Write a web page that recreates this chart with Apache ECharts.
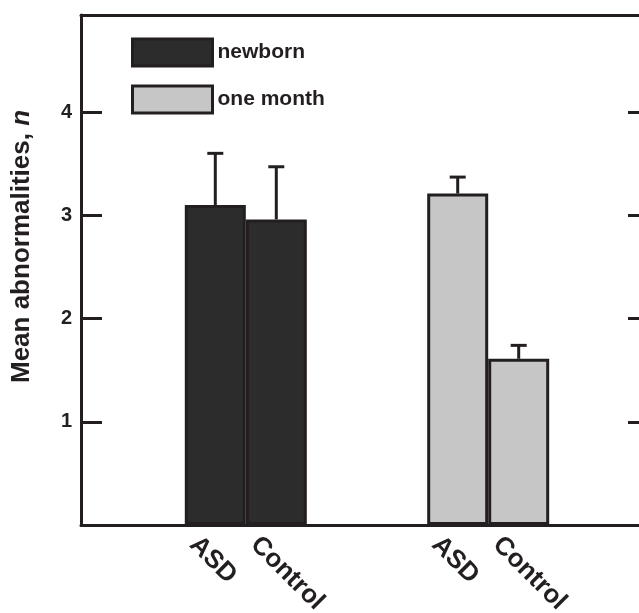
<!DOCTYPE html>
<html>
<head>
<meta charset="utf-8">
<script src="https://cdn.jsdelivr.net/npm/echarts@6/dist/echarts.min.js"></script>
<style>
html,body{margin:0;padding:0;background:#fff;}
#chart{width:639px;height:613px;}
</style>
</head>
<body>
<div id="chart"></div>
<script>
// ---- data ----
var categories = ['ASD', 'Control'];
var groups = ['newborn', 'one month'];
var newbornMean = [3.10, 2.96];
var newbornErr = [0.50, 0.51];
var oneMonthMean = [3.21, 1.61];
var oneMonthErr = [0.16, 0.13];
var yTicks = [1, 2, 3, 4];

var INK = '#231f20';
var FONT = '"Liberation Sans", Arial, Helvetica, sans-serif';
var Y_MAX = 4.94;

function errData(means, errs) {
  return means.map(function (m, i) { return [i, m, m + errs[i]]; });
}

function renderErr(params, api) {
  var x = api.value(0);
  var p0 = api.coord([x, api.value(1)]);
  var p1 = api.coord([x, api.value(2)]);
  var lw = 3;
  return {
    type: 'group',
    children: [
      { type: 'line', shape: { x1: p0[0], y1: p0[1], x2: p1[0], y2: p1[1] }, style: { stroke: INK, lineWidth: lw } },
      { type: 'line', shape: { x1: p1[0] - 8, y1: p1[1], x2: p1[0] + 8, y2: p1[1] }, style: { stroke: INK, lineWidth: lw } }
    ]
  };
}

var barLabel = {
  show: true,
  formatter: '{b}',
  position: [3, '100%'],
  offset: [15, 7],
  rotate: -45,
  align: 'left',
  verticalAlign: 'middle',
  fontSize: 26,
  fontWeight: 'bold',
  fontFamily: FONT,
  color: INK
};

function hiddenY(gi) {
  return { gridIndex: gi, type: 'value', min: 0, max: Y_MAX, show: false };
}

var lineStyle3 = { color: INK, width: 3 };

var chart = echarts.init(document.getElementById('chart'), null, { renderer: 'canvas' });
var option = {
  animation: false,
  backgroundColor: '#ffffff',
  grid: [
    { left: 81, right: -10, top: 15, bottom: 88, outerBoundsMode: 'none', containLabel: false },
    { left: 184.8, width: 122, top: 15, bottom: 88, outerBoundsMode: 'none', containLabel: false },
    { left: 427.2, width: 122, top: 15, bottom: 88, outerBoundsMode: 'none', containLabel: false }
  ],
  legend: {
    data: groups,
    orient: 'vertical',
    left: 131,
    top: 37.5,
    padding: 0,
    icon: 'rect',
    itemWidth: 80,
    itemHeight: 27,
    itemGap: 17,
    itemTextGap: 17,
    textStyle: { fontSize: 21, fontWeight: 'bold', fontFamily: FONT, color: INK },
    itemStyle: { borderColor: INK, borderWidth: 3 }
  },
  xAxis: [
    { gridIndex: 0, type: 'value', min: 0, max: 1, position: 'bottom',
      axisLine: { show: true, onZero: false, lineStyle: lineStyle3 },
      axisTick: { show: false }, axisLabel: { show: false }, splitLine: { show: false } },
    { gridIndex: 0, type: 'value', min: 0, max: 1, position: 'top',
      axisLine: { show: true, onZero: false, lineStyle: lineStyle3 },
      axisTick: { show: false }, axisLabel: { show: false }, splitLine: { show: false } },
    { gridIndex: 1, type: 'category', data: categories, show: false },
    { gridIndex: 2, type: 'category', data: categories, show: false }
  ],
  yAxis: [
    { gridIndex: 0, type: 'value', position: 'left', min: 0, max: Y_MAX, interval: 1,
      axisLine: { show: true, onZero: false, lineStyle: lineStyle3 },
      axisTick: { show: true, inside: true, length: 21, lineStyle: lineStyle3 },
      axisLabel: { show: true, margin: 9, fontSize: 20, fontWeight: 'bold', fontFamily: FONT, color: INK,
        showMaxLabel: false,
        formatter: function (v) { return yTicks.indexOf(v) >= 0 ? String(v) : ''; } },
      splitLine: { show: false } },
    { gridIndex: 0, type: 'value', position: 'right', min: 0, max: Y_MAX, interval: 1,
      axisLine: { show: true, onZero: false, lineStyle: lineStyle3 },
      axisTick: { show: true, inside: true, length: 21, lineStyle: lineStyle3 },
      axisLabel: { show: false }, splitLine: { show: false } },
    hiddenY(1),
    hiddenY(2)
  ],
  series: [
    { name: groups[0], type: 'bar', xAxisIndex: 2, yAxisIndex: 2, data: newbornMean,
      barCategoryGap: 0, z: 2,
      itemStyle: { color: '#2c2c2c', borderColor: INK, borderWidth: 3 },
      label: barLabel },
    { name: groups[1], type: 'bar', xAxisIndex: 3, yAxisIndex: 3, data: oneMonthMean,
      barCategoryGap: 0, z: 2,
      itemStyle: { color: '#c6c6c6', borderColor: INK, borderWidth: 3 },
      label: barLabel },
    { name: groups[0] + ' err', type: 'custom', xAxisIndex: 2, yAxisIndex: 2,
      data: errData(newbornMean, newbornErr), renderItem: renderErr, z: 3,
      encode: { x: 0, y: [1, 2] } },
    { name: groups[1] + ' err', type: 'custom', xAxisIndex: 3, yAxisIndex: 3,
      data: errData(oneMonthMean, oneMonthErr), renderItem: renderErr, z: 3,
      encode: { x: 0, y: [1, 2] } }
  ],
  graphic: [
    { type: 'text', x: 22, y: 246.5, rotation: Math.PI / 2,
      style: { text: '{a|Mean abnormalities, }{b|n}', align: 'center', verticalAlign: 'middle',
        rich: {
          a: { fontSize: 26, fontWeight: 'bold', fontFamily: FONT, fill: INK },
          b: { fontSize: 26, fontWeight: 'bold', fontStyle: 'italic', fontFamily: FONT, fill: INK }
        } } }
  ]
};
chart.setOption(option);
</script>
</body>
</html>
